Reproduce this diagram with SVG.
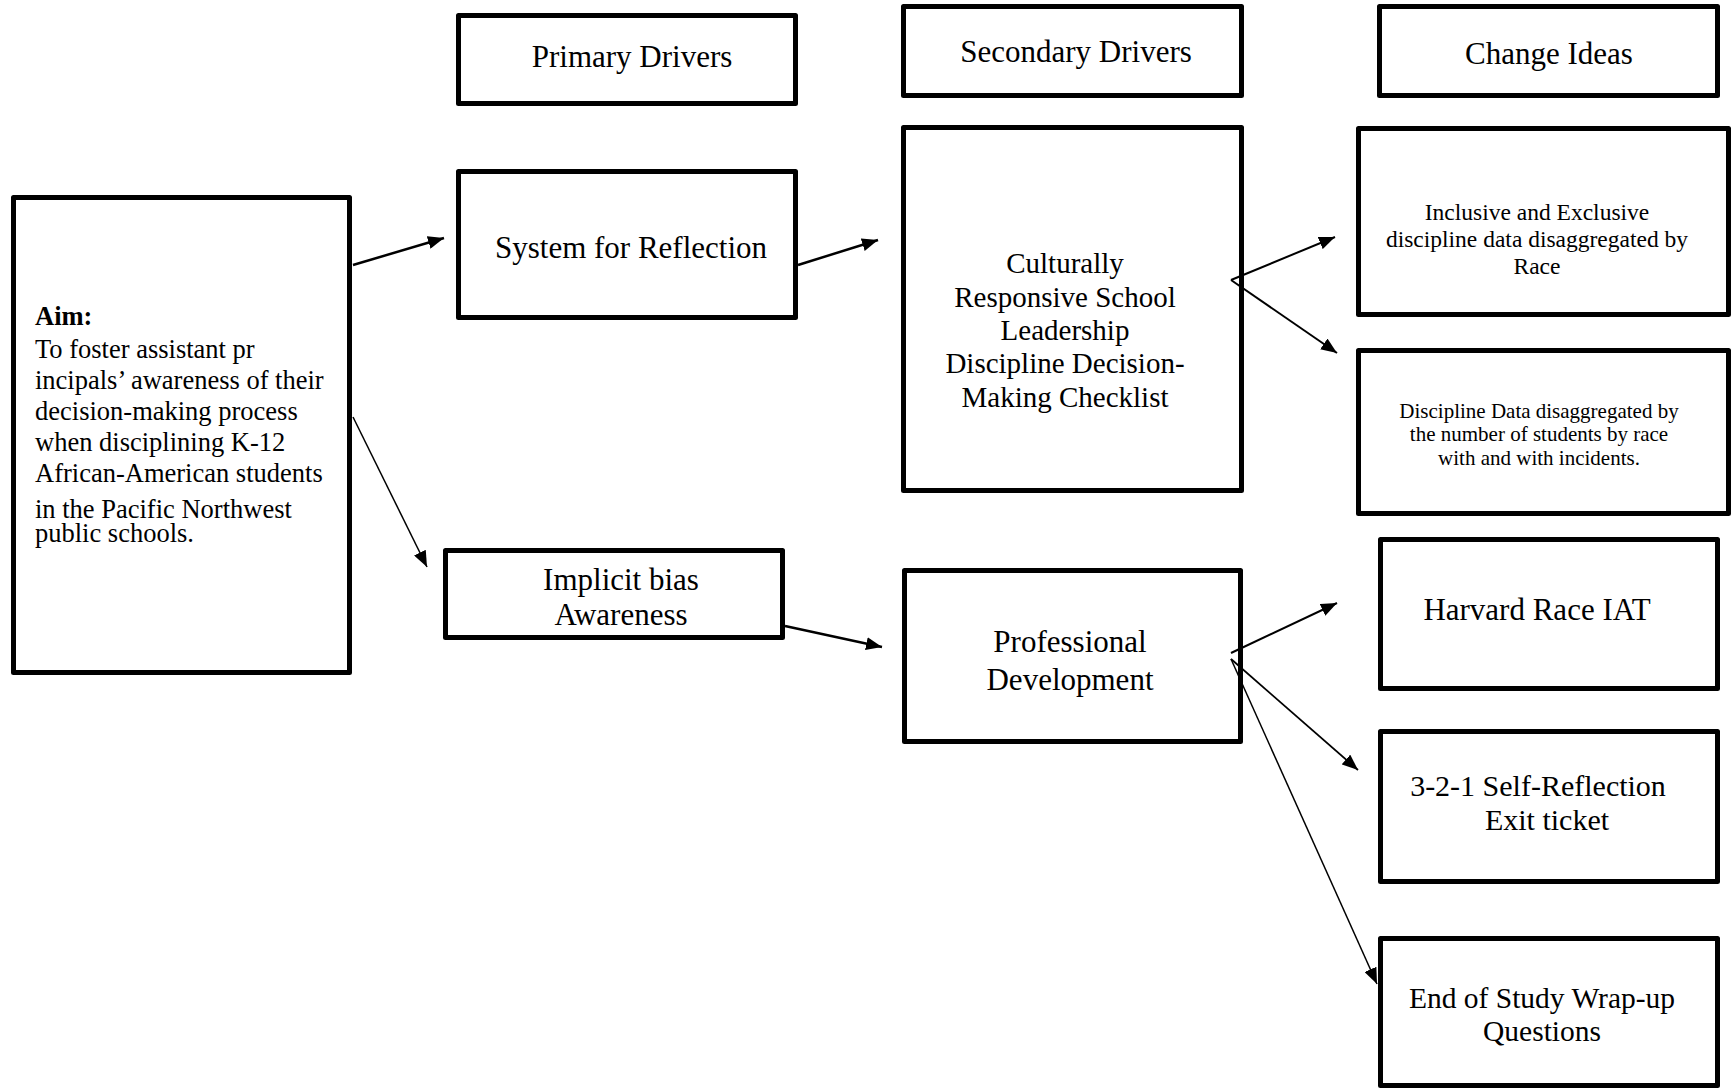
<svg xmlns="http://www.w3.org/2000/svg" width="1732" height="1089" viewBox="0 0 1732 1089">
  <style>
    .box { fill: #ffffff; stroke: #000000; stroke-width: 5; stroke-linejoin: round; }
    .t { font-family: "Liberation Serif", "Times New Roman", serif; fill: #000000; text-anchor: middle; }
    .h { font-size: 31px; }
    .aim { font-family: "Liberation Serif", "Times New Roman", serif; font-size: 26.5px; fill: #000000; }
    .c { stroke: #000000; fill: none; marker-end: url(#arrow); }
  </style>
  <defs>
    <marker id="arrow" markerUnits="userSpaceOnUse" markerWidth="17" markerHeight="13" refX="16" refY="6.5" orient="auto">
      <path d="M0,0 L16,6.5 L0,13 z" fill="#000000"/>
    </marker>
  </defs>
  <rect width="1732" height="1089" fill="#ffffff"/>

  <g id="primary-drivers-header">
    <rect class="box" x="458.5" y="15.5" width="337" height="88"/>
    <text class="t h" x="632" y="67">Primary Drivers</text>
  </g>
  <g id="secondary-drivers-header">
    <rect class="box" x="903.5" y="6.5" width="338" height="89"/>
    <text class="t h" x="1076" y="62">Secondary Drivers</text>
  </g>
  <g id="change-ideas-header">
    <rect class="box" x="1379.5" y="6.5" width="338" height="89"/>
    <text class="t h" x="1549" y="64">Change Ideas</text>
  </g>

  <g id="aim">
    <rect class="box" x="13.5" y="197.5" width="336" height="475"/>
    <text class="aim" x="35" y="325" font-weight="bold">Aim:</text>
    <text class="aim" x="35" y="358">To foster assistant pr</text>
    <text class="aim" x="35" y="389">incipals’ awareness of their</text>
    <text class="aim" x="35" y="420">decision-making process</text>
    <text class="aim" x="35" y="451">when disciplining K-12</text>
    <text class="aim" x="35" y="482">African-American students</text>
    <text class="aim" x="35" y="518">in the Pacific Northwest</text>
    <text class="aim" x="35" y="542">public schools.</text>
  </g>

  <g id="system-for-reflection">
    <rect class="box" x="458.5" y="171.5" width="337" height="146"/>
    <text class="t h" x="631" y="258">System for Reflection</text>
  </g>

  <g id="implicit-bias">
    <rect class="box" x="445.5" y="550.5" width="337" height="87"/>
    <text class="t h" x="621" y="590">Implicit bias</text>
    <text class="t h" x="621" y="625">Awareness</text>
  </g>

  <g id="culturally-responsive">
    <rect class="box" x="903.5" y="127.5" width="338" height="363"/>
    <text class="t" font-size="29" x="1065" y="273">Culturally</text>
    <text class="t" font-size="29" x="1065" y="307">Responsive School</text>
    <text class="t" font-size="29" x="1065" y="340">Leadership</text>
    <text class="t" font-size="29" x="1065" y="373">Discipline Decision-</text>
    <text class="t" font-size="29" x="1065" y="407">Making Checklist</text>
  </g>

  <g id="professional-development">
    <rect class="box" x="904.5" y="570.5" width="336" height="171"/>
    <text class="t h" x="1070" y="652">Professional</text>
    <text class="t h" x="1070" y="690">Development</text>
  </g>

  <g id="inclusive-exclusive">
    <rect class="box" x="1358.5" y="128.5" width="370" height="186"/>
    <text class="t" font-size="23.5" x="1537" y="220">Inclusive and Exclusive</text>
    <text class="t" font-size="23.5" x="1537" y="247">discipline data disaggregated by</text>
    <text class="t" font-size="23.5" x="1537" y="274">Race</text>
  </g>

  <g id="discipline-data">
    <rect class="box" x="1358.5" y="350.5" width="370" height="163"/>
    <text class="t" font-size="21" x="1539" y="418">Discipline Data disaggregated by</text>
    <text class="t" font-size="21" x="1539" y="441">the number of students by race</text>
    <text class="t" font-size="21" x="1539" y="465">with and with incidents.</text>
  </g>

  <g id="harvard-iat">
    <rect class="box" x="1380.5" y="539.5" width="337" height="149"/>
    <text class="t h" x="1537" y="620">Harvard Race IAT</text>
  </g>

  <g id="self-reflection">
    <rect class="box" x="1380.5" y="731.5" width="337" height="150"/>
    <text class="t" font-size="30" x="1538" y="796">3-2-1 Self-Reflection</text>
    <text class="t" font-size="30" x="1547" y="830">Exit ticket</text>
  </g>

  <g id="end-of-study">
    <rect class="box" x="1380.5" y="938.5" width="337" height="147"/>
    <text class="t" font-size="29.5" x="1542" y="1008">End of Study Wrap-up</text>
    <text class="t" font-size="29.5" x="1542" y="1041">Questions</text>
  </g>

  <g id="connectors">
    <line class="c" x1="353" y1="265" x2="444" y2="238" stroke-width="2.5"/>
    <line class="c" x1="353" y1="417" x2="427" y2="567" stroke-width="1.5"/>
    <line class="c" x1="798" y1="265" x2="878" y2="240" stroke-width="2.5"/>
    <line class="c" x1="1231" y1="280" x2="1335" y2="237" stroke-width="2"/>
    <line class="c" x1="1231" y1="280" x2="1337" y2="353" stroke-width="2"/>
    <line class="c" x1="785" y1="626" x2="882" y2="647" stroke-width="2.5"/>
    <line class="c" x1="1231" y1="653" x2="1337" y2="603" stroke-width="2"/>
    <line class="c" x1="1231" y1="659" x2="1358" y2="770" stroke-width="1.8"/>
    <line class="c" x1="1231" y1="659" x2="1377" y2="984" stroke-width="1.5"/>
  </g>
</svg>
